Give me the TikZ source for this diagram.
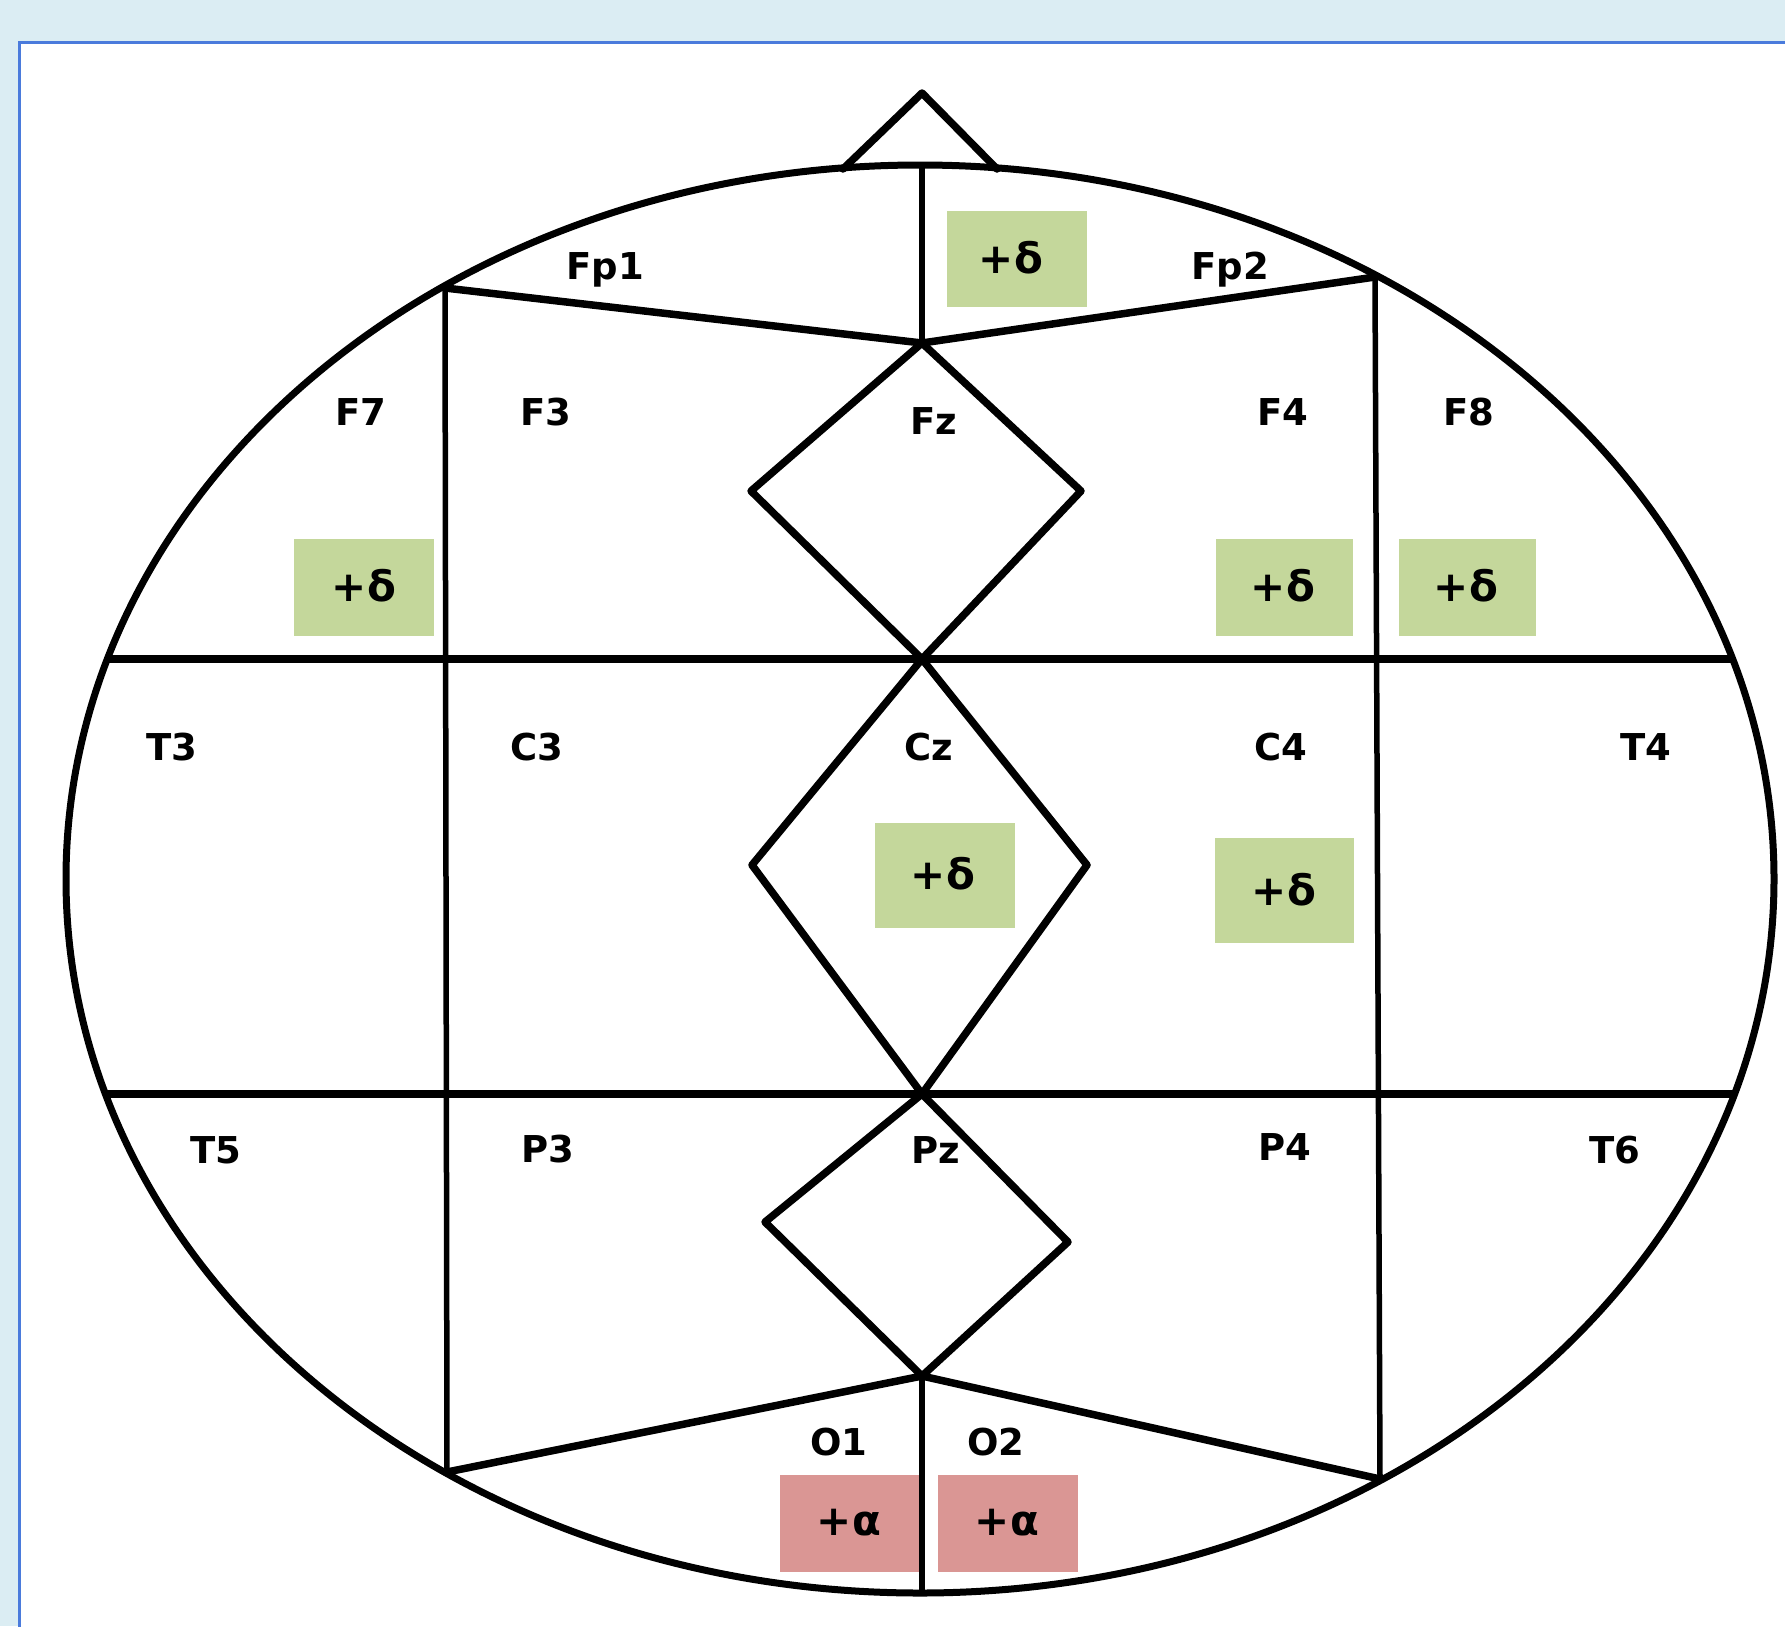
\documentclass[tikz,border=0pt]{standalone}
\usepackage{fontspec}
\newfontfamily\labfont{DejaVu Sans}
\definecolor{bgblue}{HTML}{DBEDF3}
\definecolor{panelblue}{HTML}{4A7BDC}
\definecolor{boxgreen}{HTML}{C4D79B}
\definecolor{boxred}{HTML}{DA9694}
\tikzset{
  elabel/.style={font=\labfont\bfseries\fontsize{37}{40}\selectfont, inner sep=0pt},
  bandlabel/.style={font=\labfont\bfseries\fontsize{42}{46}\selectfont, inner sep=0pt},
  headline/.style={line width=7.5pt, line join=round, line cap=round},
  gridline/.style={line width=5.5pt},
  hline/.style={line width=8.5pt},
}
\begin{document}
\begin{tikzpicture}[x=1pt,y=-1pt]
\useasboundingbox (0,0) rectangle (1785,1626);
\fill[bgblue] (0,0) rectangle (1785,1626);
\fill[white] (19,42) rectangle (1800,1650);
\draw[panelblue, line width=3pt] (1800,42) -- (19,42) -- (19,1650);

% colored boxes
\fill[boxgreen] (947,211) rectangle (1087,307);
\fill[boxgreen] (294,539) rectangle (434,636);
\fill[boxgreen] (1216,539) rectangle (1353,636);
\fill[boxgreen] (1399,539) rectangle (1536,636);
\fill[boxgreen] (875,823) rectangle (1015,928);
\fill[boxgreen] (1215,838) rectangle (1354,943);
\fill[boxred] (780,1475) rectangle (920,1572);
\fill[boxred] (938,1475) rectangle (1078,1572);

% key points
\coordinate (top) at (922,165);
\coordinate (fz) at (922,343);
\coordinate (cz) at (922,659);
\coordinate (pz) at (922,1094);
\coordinate (oz) at (922,1376);
\coordinate (bot) at (922,1593);
\coordinate (lt) at (445,288);
\coordinate (rt) at (1375,277);
\coordinate (lb) at (447,1472);
\coordinate (rb) at (1380,1479);
\coordinate (hl1) at (100,659);
\coordinate (hr1) at (1740,659);
\coordinate (hl2) at (100,1094);
\coordinate (hr2) at (1740,1094);

% grid lines (clipped to head)
\begin{scope}
\clip (920,879) ellipse [x radius=854, y radius=714];
\draw[hline] (hl1) -- (hr1);
\draw[hline] (hl2) -- (hr2);
\end{scope}
\draw[gridline] (lt) -- (lb);
\draw[gridline] (rt) -- (rb);
\draw[line width=6pt] (top) -- (fz);
\draw[line width=6pt] (oz) -- (bot);

% Fp and O lines
\draw[headline] (lt) -- (fz) -- (rt);
\draw[headline] (lb) -- (oz) -- (rb);

% diamonds
\draw[headline] (fz) -- (751,491) -- (cz) -- (1081,491) -- cycle;
\draw[headline] (cz) -- (752,865) -- (pz) -- (1087,865) -- cycle;
\draw[headline] (pz) -- (765,1222) -- (oz) -- (1068,1242) -- cycle;

% head and nose
\draw[line width=7pt] (920,879) ellipse [x radius=854, y radius=714];
\draw[headline] (843,169) -- (922,93) -- (997,169);

% electrode labels
\node[elabel] (Fp1) at (605,270) {Fp1};
\node[elabel] (Fp2) at (1230,270) {Fp2};
\node[elabel] (F7) at (361,412) {F7};
\node[elabel] (F3) at (546,412) {F3};
\node[elabel] (Fz) at (934,421) {Fz};
\node[elabel] (F4) at (1283,412) {F4};
\node[elabel] (F8) at (1469,412) {F8};
\node[elabel] (T3) at (172,747) {T3};
\node[elabel] (C3) at (537,747) {C3};
\node[elabel] (Cz) at (929,747) {Cz};
\node[elabel] (C4) at (1281,747) {C4};
\node[elabel] (T4) at (1646,747) {T4};
\node[elabel] (T5) at (216,1150) {T5};
\node[elabel] (P3) at (548,1149) {P3};
\node[elabel] (Pz) at (936,1150) {Pz};
\node[elabel] (P4) at (1285,1147) {P4};
\node[elabel] (T6) at (1615,1150) {T6};
\node[elabel] (O1) at (839,1442) {O1};
\node[elabel] (O2) at (996,1442) {O2};

% band labels
\node[bandlabel] (d1) at (1011,258) {+δ};
\node[bandlabel] (d2) at (364,586) {+δ};
\node[bandlabel] (d3) at (1283,586) {+δ};
\node[bandlabel] (d4) at (1466,586) {+δ};
\node[bandlabel] (d5) at (943,874) {+δ};
\node[bandlabel] (d6) at (1284,890) {+δ};
\node[bandlabel] (a1) at (849,1523) {+α};
\node[bandlabel] (a2) at (1007,1523) {+α};
\end{tikzpicture}
\end{document}
